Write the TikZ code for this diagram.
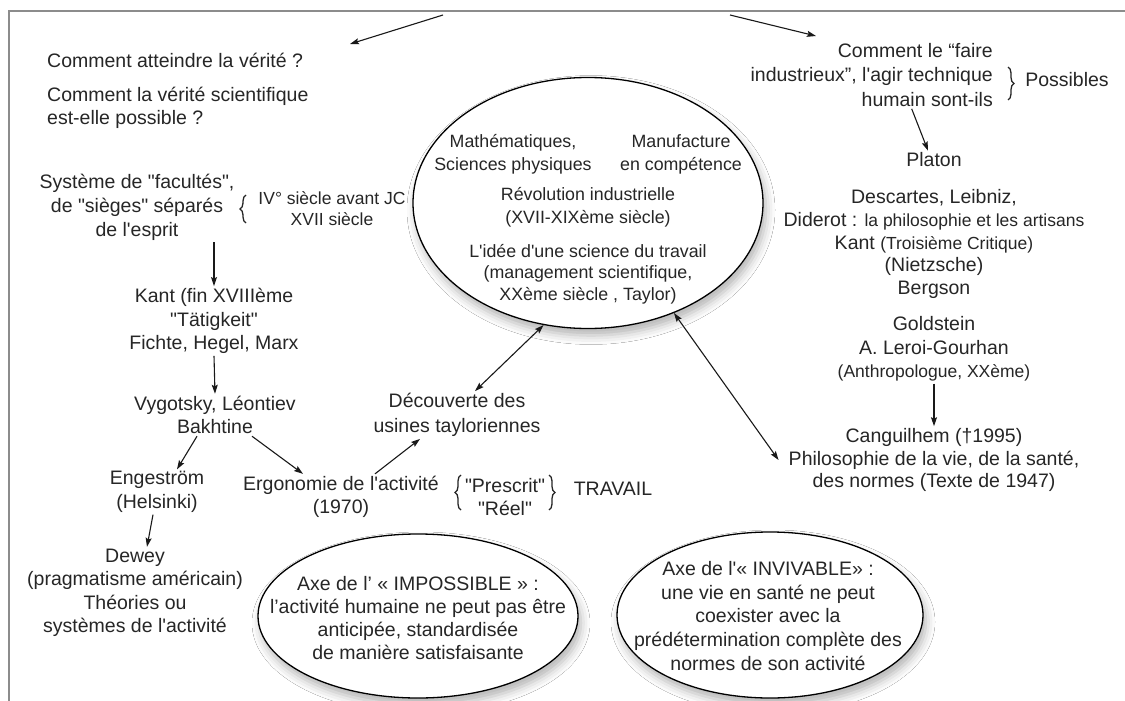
\documentclass[tikz,border=0pt]{standalone}
\usepackage{fontspec}
\newfontfamily\lsans{Liberation Sans}
\usetikzlibrary{arrows.meta,shapes.geometric,shadows.blur,decorations.pathreplacing,calc}
\definecolor{ink}{HTML}{262626}
\definecolor{rulegray}{HTML}{8C8C8C}
\newcommand\minor{\fontsize{17.5}{21}\selectfont}

\begin{document}
\begin{tikzpicture}[x=1pt,y=-1pt,
  lbl/.style={font=\lsans\fontsize{19.5}{23.5}\selectfont, text=ink, align=center, inner sep=2pt},
  ovaltxt/.style={font=\lsans\fontsize{17.8}{22.5}\selectfont, text=ink, align=center, inner sep=2pt},
  oval/.style={ellipse, draw=black, line width=1.3pt, fill=white, inner sep=0pt,
    blur shadow={shadow xshift=3pt, shadow yshift=-7pt, shadow blur radius=9pt, shadow opacity=30}},
  arr/.style={draw=black!90, line width=1.1pt, -{Stealth[length=9pt,width=6pt,inset=1.5pt]}},
  twoway/.style={arr, {Stealth[length=9pt,width=6pt,inset=1.5pt]}-{Stealth[length=9pt,width=6pt,inset=1.5pt]}},
  curly/.style={draw=ink, line width=1.3pt, decorate, decoration={brace, amplitude=6pt}},
  frameline/.style={draw=rulegray, line width=1.8pt}
]
\useasboundingbox (0,0) rectangle (1125,701);
\fill[white] (0,0) rectangle (1125,701);

% frame
\draw[frameline] (1125,11) -- (9,11) -- (9,701);

% ovals (drawn first, texts on top)
\node[oval, minimum width=350pt, minimum height=251pt] (core) at (588,203) {};
\node[oval, minimum width=320pt, minimum height=164pt] (imp) at (418,616) {};
\node[oval, minimum width=306pt, minimum height=166pt] (inv) at (770,615) {};

% left column
\node[lbl, anchor=west, align=left] (q1) at (45,60) {Comment atteindre la vérité ?};
\node[lbl, anchor=west, align=left] (q2) at (45,108) {Comment la vérité scientifique\\est-elle possible ?};
\node[lbl, font=\lsans\fontsize{19.5}{24}\selectfont] (sys) at (137,207) {Système de "facultés",\\de "sièges" séparés\\de l'esprit};
\draw[curly] (246,223) -- (246,195);
\node[lbl, font=\lsans\minor] (era) at (332,209) {IV° siècle avant JC\\XVII siècle};
\node[lbl] (kant) at (214,321) {Kant (fin XVIIIème\\"Tätigkeit"\\Fichte, Hegel, Marx};
\node[lbl] (vyg) at (215,415) {Vygotsky, Léontiev\\Bakhtine};
\node[lbl] (eng) at (157,492) {Engeström\\(Helsinki)};
\node[lbl] (dew) at (135,593) {Dewey\\(pragmatisme américain)\\Théories ou\\systèmes de l'activité};

% middle
\node[lbl] (ergo) at (341,497) {Ergonomie de l'activité\\(1970)};
\draw[curly] (461,510) -- (461,475);
\node[lbl] (presc) at (505,497) {"Prescrit"\\"Réel"};
\draw[curly] (549,475) -- (549,510);
\node[lbl] (trav) at (613,489) {TRAVAIL};
\node[lbl, font=\lsans\fontsize{19.5}{25}\selectfont] (dec) at (457,415) {Découverte des\\usines tayloriennes};

% central oval contents
\node[ovaltxt, font=\lsans\fontsize{17.8}{23}\selectfont] (math) at (513,154) {Mathématiques,\\Sciences physiques};
\node[ovaltxt, font=\lsans\fontsize{17.8}{23}\selectfont] (manu) at (681,154) {Manufacture\\en compétence};
\node[ovaltxt, font=\lsans\fontsize{17.8}{23}\selectfont] (revo) at (588,207) {Révolution industrielle\\(XVII-XIXème siècle)};
\node[ovaltxt, font=\lsans\fontsize{17.8}{21.5}\selectfont] (idee) at (588,274) {L'idée d'une science du travail\\(management scientifique,\\XXème siècle , Taylor)};

% right column
\node[lbl, align=right, anchor=east, font=\lsans\fontsize{19.5}{24.5}\selectfont] (q3) at (995,75) {Comment le “faire\\industrieux”, l'agir technique\\humain sont-ils};
\draw[curly] (1008,67) -- (1008,100);
\node[lbl] (poss) at (1067,80) {Possibles};
\node[lbl] (plat) at (934,160) {Platon};
\node[lbl, font=\lsans\fontsize{19.5}{22.75}\selectfont] (desc) at (934,244) {Descartes, Leibniz,\\Diderot : {\minor la philosophie et les artisans}\\Kant {\minor (Troisième Critique)}\\(Nietzsche)\\Bergson};
\node[lbl] (gold) at (934,349) {Goldstein\\A. Leroi-Gourhan\\{\minor (Anthropologue, XXème)}};
\node[lbl, font=\lsans\fontsize{19.5}{22.5}\selectfont] (cang) at (934,460) {Canguilhem (†1995)\\Philosophie de la vie, de la santé,\\des normes (Texte de 1947)};

% lower ovals contents
\node[lbl, font=\lsans\fontsize{19.5}{23}\selectfont] (impt) at (418,618) {Axe de l’ « IMPOSSIBLE » :\\l’activité humaine ne peut pas être\\anticipée, standardisée\\de manière satisfaisante};
\node[lbl, font=\lsans\fontsize{19.5}{23.75}\selectfont] (invt) at (768,616) {Axe de l'« INVIVABLE» :\\une vie en santé ne peut\\coexister avec la\\prédétermination complète des\\normes de son activité};

% connectors
\coordinate (fromL) at (443,15);
\coordinate (toL) at (350,44);
\coordinate (fromR) at (730,15);
\coordinate (toR) at (816,36);
\draw[arr] (fromL) -- (toL);
\draw[arr] (fromR) -- (toR);

\draw[arr] (sys.south -| kant.north) -- (kant.north);
\draw[arr] (kant.south) -- (vyg.north);
\draw[arr] ($(vyg.south)+(-18,0)$) -- ($(eng.north)+(20,0)$);
\draw[arr] ($(vyg.south)+(37,0)$) -- ($(ergo.north)+(-38,0)$);
\draw[arr] ($(eng.south)+(-4,0)$) -- ($(dew.north)+(12,0)$);
\draw[arr] ($(ergo.north)+(34,0)$) -- ($(dec.south)+(-37,0)$);
\draw[twoway] ($(dec.north)+(18,0)$) -- (core.250);
\draw[twoway] (core.308) -- ($(cang.west)+(-8,0)$);
\draw[arr] ($(q3.south)+(40,0)$) -- ($(plat.north)+(-6,0)$);
\draw[arr] (gold.south) -- (cang.north);
\end{tikzpicture}
\end{document}
